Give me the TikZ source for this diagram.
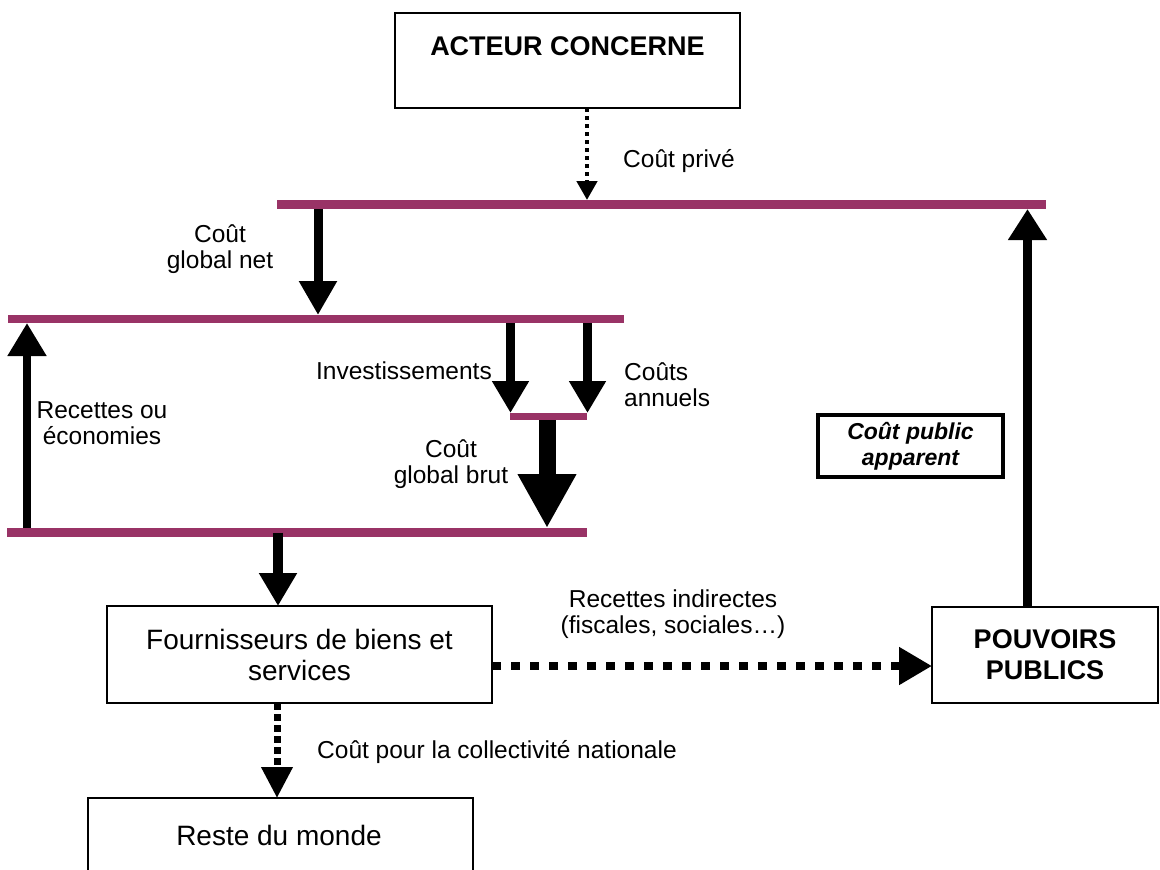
\documentclass[tikz,border=0pt]{standalone}
\usepackage{fontspec}
\setmainfont{Liberation Sans}
\usetikzlibrary{arrows.meta}
\definecolor{plum}{HTML}{993366}
\begin{document}
\begin{tikzpicture}[x=1pt,y=-1pt,
  bar/.style={rectangle, fill=plum, draw=none, inner sep=0pt, outer sep=0pt},
  box/.style={rectangle, draw=black, line width=1.4pt, fill=white, inner sep=0pt, outer sep=0pt, align=center, font=\fontsize{28}{31}\selectfont},
  bigtxt/.style={inner sep=0pt, font=\fontsize{28}{31}\selectfont},
  boldtxt/.style={inner sep=0pt, align=center, font=\fontsize{27}{31}\selectfont\bfseries},
  lbl/.style={inner sep=0pt, align=center, font=\fontsize{24.5}{26}\selectfont},
  harrow/.style n args={3}{line width=#1, line cap=butt, -{Triangle[width=#2,length=#3]}},
]
\useasboundingbox (0,0) rectangle (1160,870);
\clip (0,0) rectangle (1160,870);

% bars
\node[bar, minimum width=769pt, minimum height=9pt] (topbar) at (661.5,204.5) {};
\node[bar, minimum width=616pt, minimum height=8pt] (midbar) at (316,319) {};
\node[bar, minimum width=77pt, minimum height=7pt] (smallbar) at (548.5,416.5) {};
\node[bar, minimum width=580pt, minimum height=9pt] (botbar) at (297,532.5) {};

% boxes
\node[box, minimum width=345pt, minimum height=95pt] (acteur) at (567.5,60.5) {};
\node[boldtxt, anchor=base] (acteurtxt) at (567.5,55) {ACTEUR CONCERNE};
\node[box, minimum width=385pt, minimum height=97pt] (fourn) at (299.5,654.5) {Fournisseurs de biens et\\services};
\node[box, minimum width=226pt, minimum height=96pt, font=\fontsize{27}{31}\selectfont\bfseries] (pouv) at (1045,655) {POUVOIRS\\PUBLICS};
\node[box, line width=3.5pt, minimum width=185pt, minimum height=62pt, font=\fontsize{23}{26}\selectfont\bfseries\itshape] (cpub) at (910.5,446) {Coût public\\apparent};
\node[box, minimum width=385pt, minimum height=95pt] (reste) at (280.5,845.5) {};
\node[bigtxt, anchor=base] (restetxt) at (279,845) {Reste du monde};

% x positions
\coordinate (xa) at (587,0);
\coordinate (xb) at (318,0);
\coordinate (xc) at (510.5,0);
\coordinate (xd) at (587.5,0);
\coordinate (xe) at (547,0);
\coordinate (xf) at (27,0);
\coordinate (xg) at (278,0);
\coordinate (xh) at (1027.5,0);
\coordinate (xi) at (277,0);

% connectors
\draw[harrow={4.5pt}{20pt}{19pt}, dash pattern=on 4pt off 4pt] (acteur.south -| xa) -- (topbar.north -| xa);
\draw[harrow={9pt}{36pt}{34pt}] (topbar.south -| xb) -- (midbar.north -| xb);
\draw[harrow={8.5pt}{35pt}{32pt}] (midbar.south -| xc) -- (smallbar.north -| xc);
\draw[harrow={8.5pt}{35pt}{32pt}] (midbar.south -| xd) -- (smallbar.north -| xd);
\draw[harrow={17pt}{55pt}{54pt}] (smallbar.south -| xe) -- (botbar.north -| xe);
\draw[harrow={8pt}{37pt}{33pt}] (botbar.north -| xf) -- (midbar.south -| xf);
\draw[harrow={10pt}{36pt}{33pt}] (botbar.center -| xg) -- (fourn.north -| xg);
\draw[harrow={9pt}{37pt}{31pt}] (pouv.north -| xh) -- (topbar.south -| xh);
\draw[harrow={8pt}{36pt}{33pt}, dash pattern=on 9pt off 10pt] (fourn.east |- 0,666) -- (pouv.west |- 0,666);
\draw[harrow={7pt}{30pt}{31pt}, dash pattern=on 7pt off 4pt] (fourn.south -| xi) -- (reste.north -| xi);

% labels
\node[lbl, anchor=base west] (lprive) at (623,167) {Coût privé};
\node[lbl] (lnet) at (220,249) {Coût\\global net};
\node[lbl] (lrec) at (102,423) {Recettes ou\\économies};
\node[lbl, anchor=base east] (linv) at (492,379) {Investissements};
\node[lbl, align=left, anchor=west] (lann) at (624,384.5) {Coûts\\annuels};
\node[lbl] (lbrut) at (451,464) {Coût\\global brut};
\node[lbl] (lind) at (673,614) {Recettes indirectes\\(fiscales, sociales…)};
\node[lbl, anchor=base west] (lcoll) at (317,758) {Coût pour la collectivité nationale};
\end{tikzpicture}
\end{document}
